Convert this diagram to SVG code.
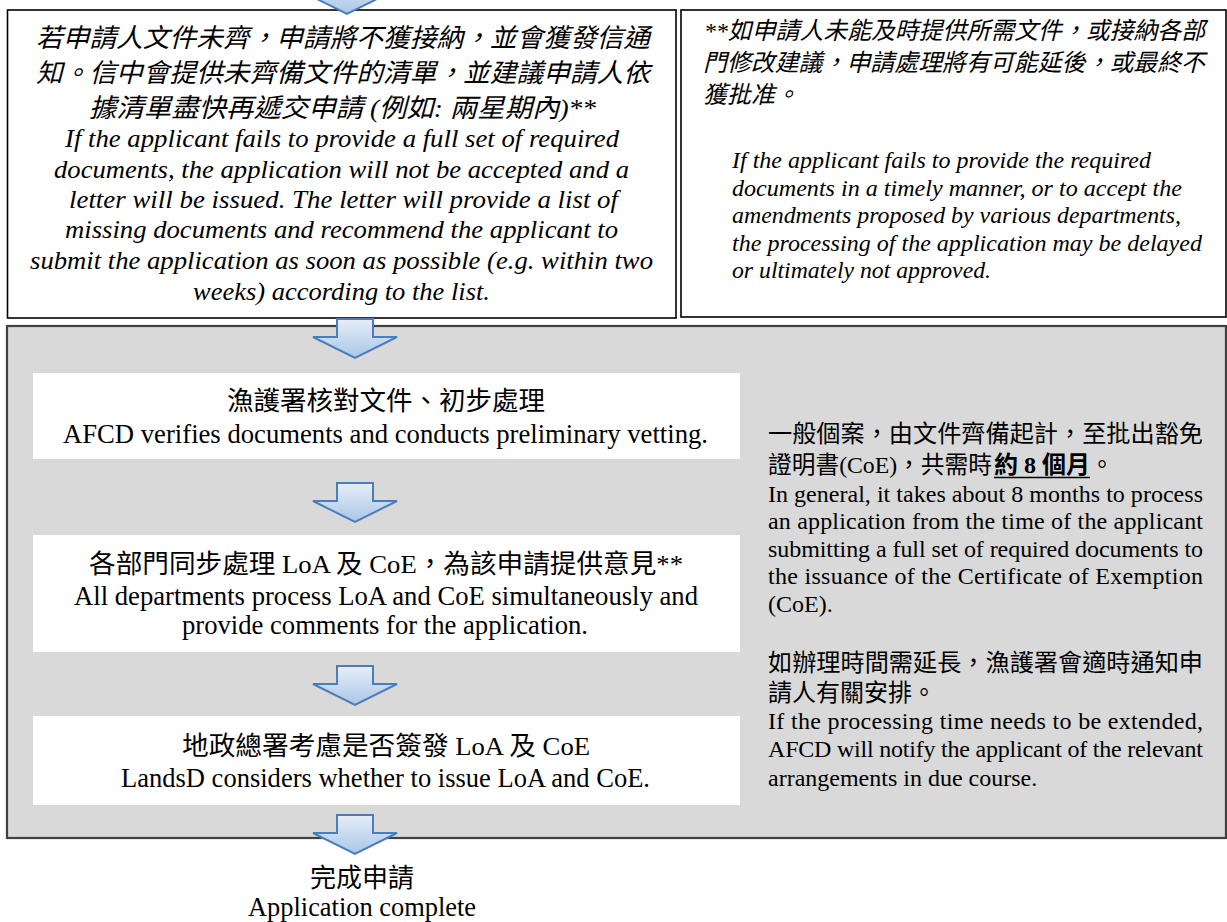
<svg xmlns="http://www.w3.org/2000/svg" width="1227" height="922" viewBox="0 0 1227 922">
<style>
  .t { font-family: "Liberation Serif", "Noto Sans CJK TC", serif; fill: #000; }
  .it { font-style: italic; }
  .s24 { font-size: 24px; }
  .s26 { font-size: 26px; }
  .s27 { font-size: 27px; }
  .box { fill: #fff; stroke: #000; stroke-width: 1.6; }
  .wbox { fill: #fff; }
  .arrow { fill: url(#ag); stroke: #4a7ebb; stroke-width: 2; stroke-linejoin: miter; }
</style>
<defs>
  <linearGradient id="ag" x1="0" y1="0" x2="0" y2="1">
    <stop offset="0" stop-color="#e6eef8"/>
    <stop offset="1" stop-color="#a9c6e8"/>
  </linearGradient>
</defs>
<rect width="1227" height="922" fill="#fff"/>

<g id="note-missing-docs">
  <rect class="box" x="7.5" y="10" width="668.5" height="308"/>
  <text class="t it s26" x="36" y="47" textLength="614" lengthAdjust="spacingAndGlyphs">若申請人文件未齊，申請將不獲接納，並會獲發信通</text>
  <text class="t it s26" x="36" y="82" textLength="614" lengthAdjust="spacingAndGlyphs">知。信中會提供未齊備文件的清單，並建議申請人依</text>
  <text class="t it s26" x="89" y="117" textLength="507" lengthAdjust="spacingAndGlyphs">據清單盡快再遞交申請 (例如:  兩星期內)**</text>
  <text class="t it s26" x="65" y="147" textLength="554" lengthAdjust="spacingAndGlyphs">If the applicant fails to provide a full set of required</text>
  <text class="t it s26" x="54" y="178" textLength="575" lengthAdjust="spacingAndGlyphs">documents, the application will not be accepted and a</text>
  <text class="t it s26" x="69" y="208" textLength="549" lengthAdjust="spacingAndGlyphs">letter will be issued. The letter will provide a list of</text>
  <text class="t it s26" x="65" y="238" textLength="553" lengthAdjust="spacingAndGlyphs">missing documents and recommend the applicant to</text>
  <text class="t it s26" x="30" y="269" textLength="623" lengthAdjust="spacingAndGlyphs">submit the application as soon as possible (e.g. within two</text>
  <text class="t it s26" x="193" y="300" textLength="297" lengthAdjust="spacingAndGlyphs">weeks) according to the list.</text>
</g>

<g id="note-delay">
  <rect class="box" x="681" y="10" width="545" height="307"/>
  <text class="t it s24" x="704" y="39" textLength="501" lengthAdjust="spacingAndGlyphs">**如申請人未能及時提供所需文件，或接納各部</text>
  <text class="t it s24" x="703" y="71" textLength="502" lengthAdjust="spacingAndGlyphs">門修改建議，申請處理將有可能延後，或最終不</text>
  <text class="t it s24" x="703" y="103">獲批准。</text>
  <text class="t it s24" x="732" y="168" textLength="419" lengthAdjust="spacingAndGlyphs">If the applicant fails to provide the required</text>
  <text class="t it s24" x="732" y="196" textLength="450" lengthAdjust="spacingAndGlyphs">documents in a timely manner, or to accept the</text>
  <text class="t it s24" x="732" y="223" textLength="449" lengthAdjust="spacingAndGlyphs">amendments proposed by various departments,</text>
  <text class="t it s24" x="732" y="251" textLength="470" lengthAdjust="spacingAndGlyphs">the processing of the application may be delayed</text>
  <text class="t it s24" x="732" y="278" textLength="259" lengthAdjust="spacingAndGlyphs">or ultimately not approved.</text>
</g>

<g id="processing-panel">
  <rect x="7" y="326" width="1219" height="512" fill="#d9d9d9" stroke="#404040" stroke-width="2.2"/>
</g>

<g id="step-afcd-vetting">
  <rect class="wbox" x="33" y="373" width="707" height="86"/>
  <text class="t s26" x="227" y="410" textLength="318" lengthAdjust="spacingAndGlyphs">漁護署核對文件、初步處理</text>
  <text class="t s27" x="63" y="443" textLength="645" lengthAdjust="spacingAndGlyphs">AFCD verifies documents and conducts preliminary vetting.</text>
</g>

<g id="step-departments">
  <rect class="wbox" x="33" y="535" width="707" height="117"/>
  <text class="t s26" x="89" y="573" textLength="594" lengthAdjust="spacingAndGlyphs">各部門同步處理 LoA 及 CoE，為該申請提供意見**</text>
  <text class="t s27" x="74" y="605" textLength="624" lengthAdjust="spacingAndGlyphs">All departments process LoA and CoE simultaneously and</text>
  <text class="t s27" x="182" y="634" textLength="406" lengthAdjust="spacingAndGlyphs">provide comments for the application.</text>
</g>

<g id="step-landsd">
  <rect class="wbox" x="33" y="716" width="707" height="89"/>
  <text class="t s26" x="182" y="755" textLength="408" lengthAdjust="spacingAndGlyphs">地政總署考慮是否簽發 LoA 及 CoE</text>
  <text class="t s27" x="121" y="787" textLength="529" lengthAdjust="spacingAndGlyphs">LandsD considers whether to issue LoA and CoE.</text>
</g>

<g id="timing-notes">
  <text class="t s24" x="768" y="442" textLength="435" lengthAdjust="spacingAndGlyphs">一般個案，由文件齊備起計，至批出豁免</text>
  <text class="t s24" x="768" y="473" textLength="224" lengthAdjust="spacingAndGlyphs">證明書(CoE)，共需時</text>
  <text class="t s24" x="994" y="473" font-weight="bold" textLength="96" lengthAdjust="spacingAndGlyphs">約 8 個月</text>
  <line x1="994" y1="477.5" x2="1090" y2="477.5" stroke="#000" stroke-width="1.5"/>
  <text class="t s24" x="1090" y="473">。</text>
  <text class="t s24" x="768" y="502" textLength="435">In general, it takes about 8 months to process</text>
  <text class="t s24" x="768" y="529" textLength="435">an application from the time of the applicant</text>
  <text class="t s24" x="768" y="557" textLength="435">submitting a full set of required documents to</text>
  <text class="t s24" x="768" y="584" textLength="435">the issuance of the Certificate of Exemption</text>
  <text class="t s24" x="768" y="612">(CoE).</text>
  <text class="t s24" x="768" y="671" textLength="435" lengthAdjust="spacingAndGlyphs">如辦理時間需延長，漁護署會適時通知申</text>
  <text class="t s24" x="768" y="701">請人有關安排。</text>
  <text class="t s24" x="768" y="729" textLength="435">If the processing time needs to be extended,</text>
  <text class="t s24" x="768" y="757" textLength="435">AFCD will notify the applicant of the relevant</text>
  <text class="t s24" x="768" y="786">arrangements in due course.</text>
</g>

<g id="complete">
  <text class="t s26" x="310" y="887" textLength="104" lengthAdjust="spacingAndGlyphs">完成申請</text>
  <text class="t s27" x="248" y="916" textLength="228" lengthAdjust="spacingAndGlyphs">Application complete</text>
</g>

<g id="connectors">
  <path class="arrow" d="M329,-25 H365 V-7 H389 L347,14 L305,-7 H329 Z"/>
  <path class="arrow" d="M337,319 H373 V337 H397 L355,358 L313,337 H337 Z"/>
  <path class="arrow" d="M337,483 H373 V501 H397 L355,522 L313,501 H337 Z"/>
  <path class="arrow" d="M337,666 H373 V684 H397 L355,705 L313,684 H337 Z"/>
  <path class="arrow" d="M337,815 H373 V833 H397 L355,854 L313,833 H337 Z"/>
</g>
</svg>
